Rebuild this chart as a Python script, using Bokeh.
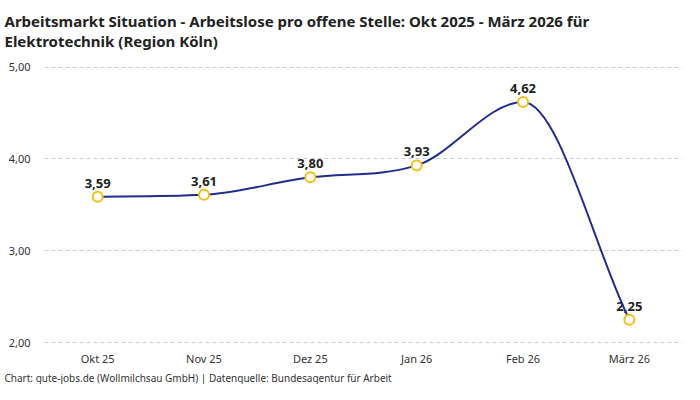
from bokeh.plotting import figure
from bokeh.models import ColumnDataSource, Title, FixedTicker, Range1d, CustomJSTickFormatter
from bokeh.core.properties import value
from bokeh.embed import file_html
from bokeh.resources import INLINE

# data
months = ["Okt 25", "Nov 25", "Dez 25", "Jan 26", "Feb 26", "März 26"]
ratio = [3.59, 3.61, 3.80, 3.93, 4.62, 2.25]
y_ticks = [2.0, 3.0, 4.0, 5.0]

FONT = "Noto Sans"
LINE_COLOR = "#1f2d8f"
DOT_COLOR = "#f5c016"

x = list(range(len(months)))
labels = [("%.2f" % v).replace(".", ",") for v in ratio]


def monotone_beziers(xs, ys):
    # Fritsch-Carlson tangents, turned into cubic bezier segments
    n = len(xs)
    d = [(ys[i + 1] - ys[i]) / (xs[i + 1] - xs[i]) for i in range(n - 1)]
    m = [d[0]] + [0.0] * (n - 2) + [d[-1]]
    for i in range(1, n - 1):
        if d[i - 1] * d[i] <= 0:
            m[i] = 0.0
        else:
            m[i] = (d[i - 1] + d[i]) / 2
    for i in range(n - 1):
        if d[i] == 0:
            m[i] = m[i + 1] = 0.0
            continue
        a, b = m[i] / d[i], m[i + 1] / d[i]
        s = a * a + b * b
        if s > 9:
            t = 3 / s ** 0.5
            m[i], m[i + 1] = t * a * d[i], t * b * d[i]
    seg = dict(x0=[], y0=[], x1=[], y1=[], cx0=[], cy0=[], cx1=[], cy1=[])
    for i in range(n - 1):
        h = (xs[i + 1] - xs[i]) / 3
        seg["x0"].append(xs[i]); seg["y0"].append(ys[i])
        seg["x1"].append(xs[i + 1]); seg["y1"].append(ys[i + 1])
        seg["cx0"].append(xs[i] + h); seg["cy0"].append(ys[i] + m[i] * h)
        seg["cx1"].append(xs[i + 1] - h); seg["cy1"].append(ys[i + 1] - m[i + 1] * h)
    return seg


src = ColumnDataSource(dict(x=x, y=ratio, label=labels))
curve = ColumnDataSource(monotone_beziers(x, ratio))

p = figure(width=684, height=384, output_backend="svg", toolbar_location=None,
           x_range=Range1d(-0.5, len(months) - 0.5), y_range=Range1d(1.97, 5.05),
           min_border_left=44, min_border_right=2, min_border_top=0, min_border_bottom=0)
p.outline_line_color = None
p.background_fill_color = "white"

p.text("x", "y", text="label", source=src, text_align="center", text_baseline="bottom",
       y_offset=-9, text_font=value(FONT), text_font_size="13px", text_font_style="bold",
       text_color="#222222")
p.bezier(x0="x0", y0="y0", x1="x1", y1="y1", cx0="cx0", cy0="cy0", cx1="cx1", cy1="cy1",
         source=curve, line_color=LINE_COLOR, line_width=2)
p.scatter("x", "y", source=src, size=10, fill_color="white", line_color=DOT_COLOR, line_width=2)

# axes
p.xaxis.ticker = FixedTicker(ticks=x)
p.xaxis.major_label_overrides = {i: m for i, m in enumerate(months)}
p.yaxis.ticker = FixedTicker(ticks=y_ticks)
p.yaxis.formatter = CustomJSTickFormatter(code="return tick.toFixed(2).replace('.', ',');")
for ax in (p.xaxis, p.yaxis):
    ax.axis_line_color = None
    ax.major_tick_line_color = None
    ax.minor_tick_line_color = None
    ax.major_tick_out = 0
    ax.minor_tick_out = 0
    ax.major_label_text_font = FONT
    ax.major_label_text_font_size = "11px"
    ax.major_label_text_color = "#333333"
p.xaxis.major_label_standoff = 5
p.yaxis.major_label_standoff = 14

p.xgrid.grid_line_color = None
p.ygrid.grid_line_color = "#cccccc"
p.ygrid.grid_line_dash = "4 3"

# title (two lines) and footer
p.title.visible = False
p.add_layout(Title(text="Arbeitsmarkt Situation - Arbeitslose pro offene Stelle: Okt 2025 - März 2026 für\n"
                        "Elektrotechnik (Region Köln)",
                   text_font=FONT, text_font_size="15px", text_font_style="bold",
                   text_color="#222222", align="left", vertical_align="top", offset=-40,
                   standoff=20, text_line_height=1.0), "above")
p.add_layout(Title(text="Chart: gute-jobs.de (Wollmilchsau GmbH) | Datenquelle: Bundesagentur für Arbeit",
                   text_font=FONT, text_font_size="10px", text_font_style="normal",
                   text_color="#333333", align="left", offset=-40, standoff=0), "below")

open("out.html", "w").write(file_html(p, INLINE))
